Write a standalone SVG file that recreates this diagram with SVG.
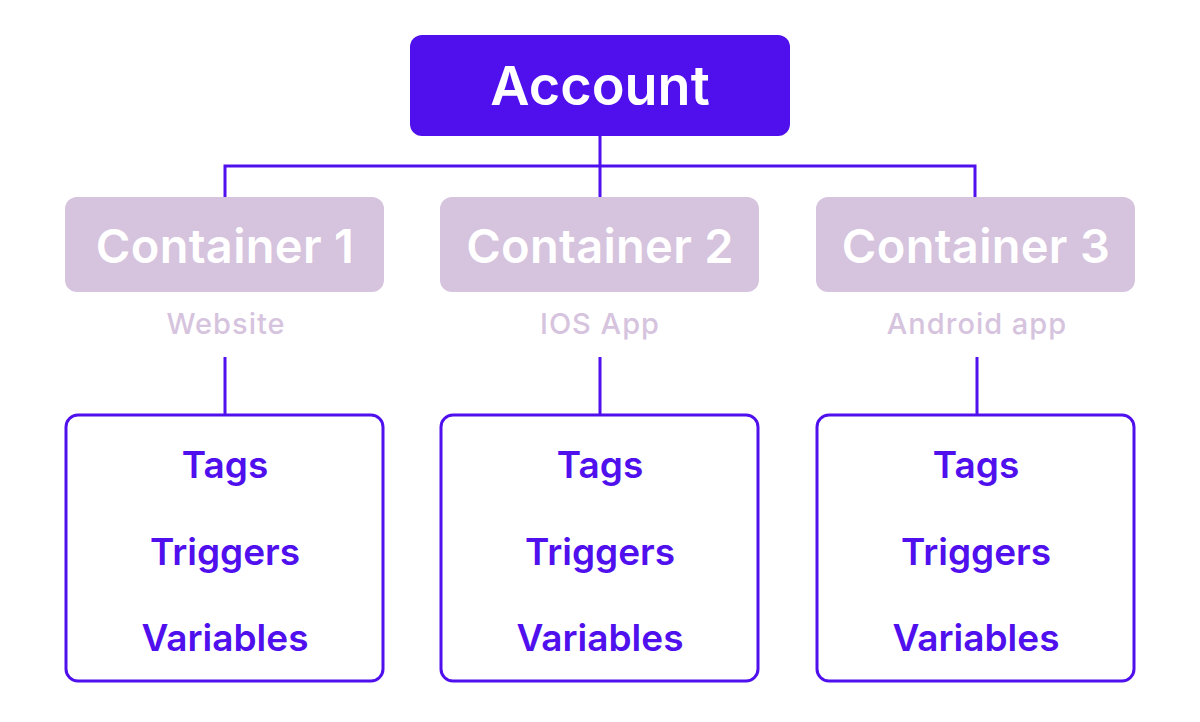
<svg xmlns="http://www.w3.org/2000/svg" width="1200" height="722" viewBox="0 0 1200 722">
<style>
text{font-family:Inter,"Noto Sans",sans-serif;text-anchor:middle;dominant-baseline:central}
.c{fill:#D6C3DE}
.ct{fill:#fff;font-size:47px;font-weight:600;letter-spacing:0.3px}
.sub{fill:#D6C3DE;font-size:29px;font-weight:500;letter-spacing:1px}
.b{fill:#fff;stroke:#5010EE;stroke-width:3}
.bt{fill:#5010EE;font-size:37px;font-weight:600}
.l{stroke:#5010EE;stroke-width:3;fill:none}
</style>
<rect width="1200" height="722" fill="#fff"/>
<g id="connectors">
<path class="l" d="M600 136V166M225 197V166H975V197M600 166V197M225 357V414M600 357V414M977 357V414"/>
</g>
<g id="account"><rect x="410" y="35" width="380" height="101" rx="12" fill="#5010EE"/><text x="600" y="85" fill="#fff" font-size="54" font-weight="600">Account</text></g>
<g id="container1"><rect class="c" x="65" y="197" width="319" height="95" rx="12"/><text class="ct" x="225" y="245">Container 1</text><text class="sub" x="226" y="323">Website</text></g>
<g id="container2"><rect class="c" x="440" y="197" width="319" height="95" rx="12"/><text class="ct" x="600" y="245">Container 2</text><text class="sub" x="600" y="323">IOS App</text></g>
<g id="container3"><rect class="c" x="816" y="197" width="319" height="95" rx="12"/><text class="ct" x="976" y="245">Container 3</text><text class="sub" x="977" y="323">Android app</text></g>
<g id="box1"><rect class="b" x="66" y="415" width="317" height="266" rx="12"/><text class="bt" x="225" y="464">Tags</text><text class="bt" x="225" y="551">Triggers</text><text class="bt" x="225" y="637">Variables</text></g>
<g id="box2"><rect class="b" x="441" y="415" width="317" height="266" rx="12"/><text class="bt" x="600" y="464">Tags</text><text class="bt" x="600" y="551">Triggers</text><text class="bt" x="600" y="637">Variables</text></g>
<g id="box3"><rect class="b" x="817" y="415" width="317" height="266" rx="12"/><text class="bt" x="976" y="464">Tags</text><text class="bt" x="976" y="551">Triggers</text><text class="bt" x="976" y="637">Variables</text></g>
</svg>
